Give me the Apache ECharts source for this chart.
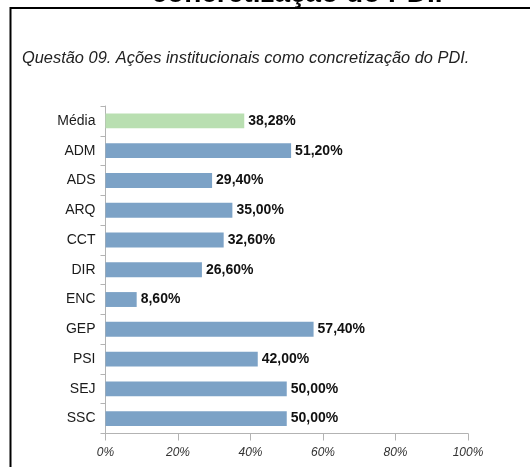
<!DOCTYPE html>
<html>
<head>
<meta charset="utf-8">
<script src="https://cdn.jsdelivr.net/npm/echarts@6/dist/echarts.min.js"></script>
<style>
  html, body { margin: 0; padding: 0; background: #fff; }
  #chart { width: 530px; height: 467px; }
</style>
</head>
<body>
<div id="chart"></div>
<script>
  // dados da questão 09
  const categories = ['Média', 'ADM', 'ADS', 'ARQ', 'CCT', 'DIR', 'ENC', 'GEP', 'PSI', 'SEJ', 'SSC'];
  const values = [38.28, 51.20, 29.40, 35.00, 32.60, 26.60, 8.60, 57.40, 42.00, 50.00, 50.00];
  const xTicks = [0, 20, 40, 60, 80, 100];

  const chart = echarts.init(document.getElementById('chart'));

  const barData = values.map(function (v, i) {
    return {
      value: v,
      itemStyle: { color: i === 0 ? '#b9dfb1' : '#7ca2c6' }
    };
  });

  const option = {
    animation: false,
    graphic: [
      {
        type: 'text',
        style: {
          x: 297,
          y: 8,
          text: 'concretização do PDI.',
          align: 'center',
          verticalAlign: 'bottom',
          font: 'bold 28px "Liberation Sans", Arial, sans-serif',
          fill: '#000'
        },
        z: 10
      },
      {
        type: 'rect',
        shape: { x: 10.5, y: 8, width: 560, height: 500 },
        style: { fill: 'none', stroke: '#000', lineWidth: 2 },
        z: 10
      },
      {
        type: 'text',
        style: {
          x: 22,
          y: 58,
          verticalAlign: 'middle',
          text: 'Questão 09. Ações institucionais como concretização do PDI.',
          font: 'italic 16.4px "Liberation Sans", Arial, sans-serif',
          fill: '#222'
        }
      }
    ],
    grid: {
      left: 105.5,
      right: 62,
      top: 106,
      bottom: 33.5
    },
    xAxis: {
      type: 'value',
      min: xTicks[0],
      max: xTicks[xTicks.length - 1],
      interval: 20,
      axisLine: { show: true, lineStyle: { color: '#b3b3b3', width: 1 } },
      axisTick: { show: true, length: 7, lineStyle: { color: '#b3b3b3' } },
      splitLine: { show: false },
      axisLabel: {
        margin: 13,
        fontFamily: '"Liberation Sans", Arial, sans-serif',
        fontStyle: 'italic',
        fontSize: 12,
        color: '#333',
        formatter: '{value}%'
      }
    },
    yAxis: {
      type: 'category',
      inverse: true,
      data: categories,
      axisLine: { show: true, lineStyle: { color: '#b3b3b3', width: 1 } },
      axisTick: { show: true, length: 5, lineStyle: { color: '#b3b3b3' } },
      axisLabel: {
        margin: 10,
        fontFamily: '"Liberation Sans", Arial, sans-serif',
        fontSize: 14,
        color: '#1a1a1a'
      }
    },
    series: [
      {
        type: 'bar',
        data: barData,
        barWidth: '50%',
        label: {
          show: true,
          position: 'right',
          distance: 4,
          fontFamily: '"Liberation Sans", Arial, sans-serif',
          fontWeight: 'bold',
          fontSize: 14,
          color: '#111',
          formatter: function (p) {
            return p.value.toFixed(2).replace('.', ',') + '%';
          }
        }
      }
    ]
  };

  chart.setOption(option);
</script>
</body>
</html>
